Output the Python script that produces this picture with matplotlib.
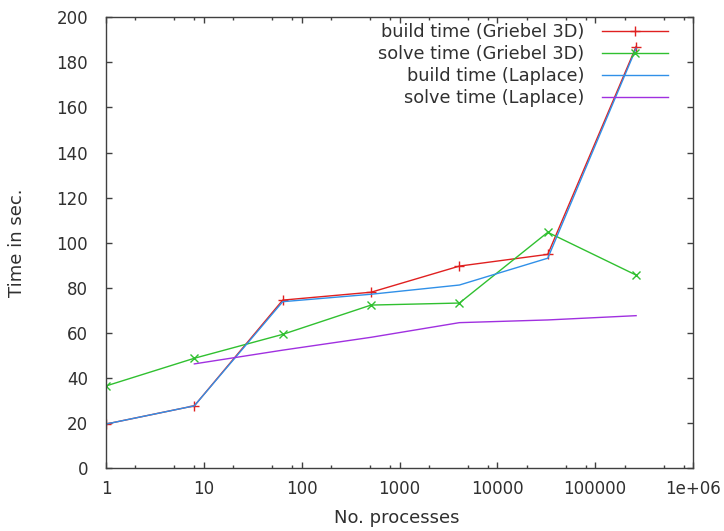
import matplotlib
matplotlib.use("Agg")
import matplotlib.pyplot as plt

# Data

processes = [1, 8, 64, 512, 4096, 32768, 262144]

build_griebel = [19.5, 27.6, 74.5, 78.0, 89.6, 94.8, 187.0]
solve_griebel = [36.4, 48.7, 59.3, 72.3, 73.2, 104.6, 85.6]
build_laplace = [19.5, 27.6, 73.8, 77.1, 81.2, 93.1, 186.2]

processes_solve_laplace = [8, 64, 512, 4096, 32768, 262144]
solve_laplace = [46.2, 52.3, 58.0, 64.5, 65.7, 67.6]

x_ticks = [1, 10, 100, 1000, 10000, 100000, 1000000]
x_tick_labels = ["1", "10", "100", "1000", "10000", "100000", "1e+06"]
y_ticks = list(range(0, 201, 20))

# Style

plt.rcParams["font.family"] = ["DejaVu Sans"]
plt.rcParams["font.size"] = 12
TEXT_COLOR = "#303030"
AXIS_COLOR = "#404040"

fig = plt.figure(figsize=(7.24, 5.31), dpi=100)
ax = fig.add_axes([106 / 724, 1 - 468 / 531, 587 / 724, (468 - 17.3) / 531])

ax.plot(processes, build_griebel, color="#e02020", lw=1.0,
        marker="+", ms=7, mew=1.0, label="build time (Griebel 3D)")
ax.plot(processes, solve_griebel, color="#30c030", lw=1.0,
        marker="x", ms=6, mew=1.0, label="solve time (Griebel 3D)")
ax.plot(processes, build_laplace, color="#3090e8", lw=1.0,
        label="build time (Laplace)")
ax.plot(processes_solve_laplace, solve_laplace, color="#a030e0", lw=1.0,
        label="solve time (Laplace)")

ax.set_xscale("log")
ax.set_xlim(1, 1e6)
ax.set_ylim(0, 200)
ax.set_xticks(x_ticks, labels=x_tick_labels)
minor = [m * 10 ** d for d in range(6) for m in (2, 5, 8)]
ax.set_xticks(minor, minor=True)
ax.set_yticks(y_ticks)

ax.tick_params(which="both", direction="in", top=True, right=True,
               color=AXIS_COLOR, labelcolor=TEXT_COLOR, labelsize=12)
ax.tick_params(axis="x", which="major", length=4, width=1.0, pad=9)
ax.tick_params(axis="x", which="minor", length=2.2, width=1.0)
ax.tick_params(axis="y", which="major", length=4, width=1.0, pad=13)

for spine in ax.spines.values():
    spine.set_color(AXIS_COLOR)
    spine.set_linewidth(1.0)

ax.set_xlabel("No. processes", color=TEXT_COLOR, fontsize=13)
ax.set_ylabel("Time in sec.", color=TEXT_COLOR, fontsize=13)
ax.yaxis.set_label_coords(-0.137, 0.5)
ax.xaxis.set_label_coords(0.496, -0.092)

legend = ax.legend(
    loc="upper right",
    bbox_to_anchor=(668 / 724, 1 - 23 / 531),
    bbox_transform=fig.transFigure,
    frameon=False,
    markerfirst=False,
    numpoints=1,
    handlelength=3.7,
    handletextpad=1.0,
    labelspacing=0.22,
    borderpad=0,
    borderaxespad=0,
    fontsize=12.8,
)
for text in legend.get_texts():
    text.set_color(TEXT_COLOR)

fig.savefig("out.png", dpi=100)
